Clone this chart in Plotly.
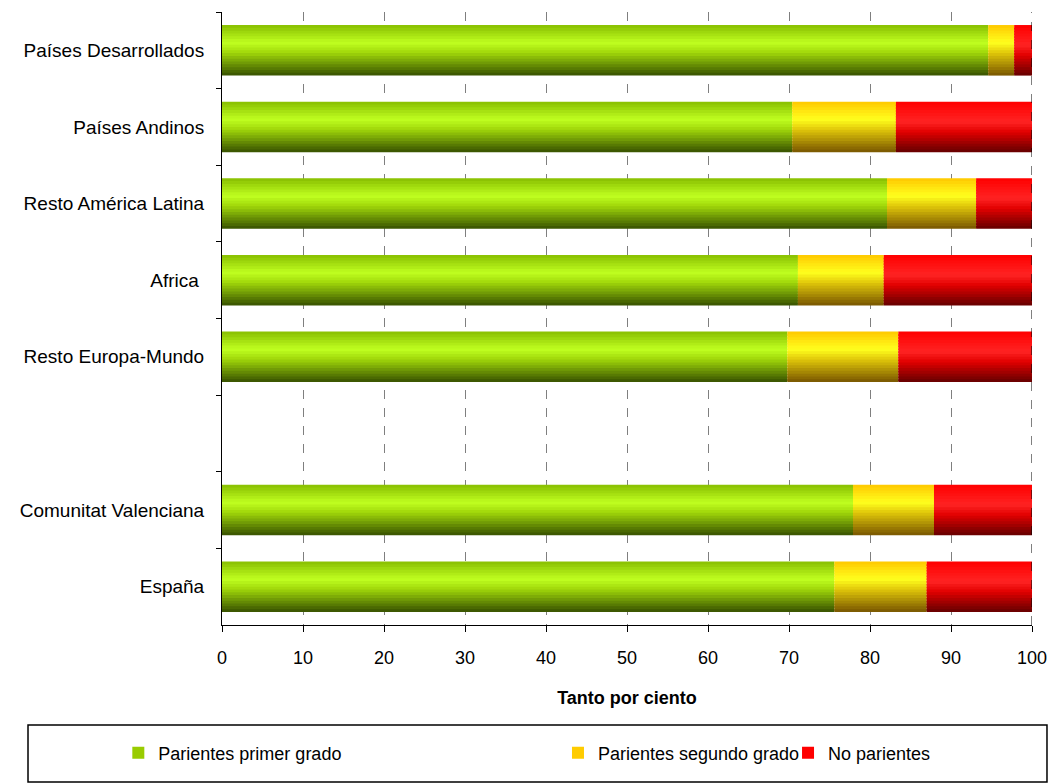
import plotly.graph_objects as go

categories = ["Países Desarrollados", "Países Andinos", "Resto América Latina", "Africa ",
              "Resto Europa-Mundo", " ", "Comunitat Valenciana", "España"]
primer_grado = [94.6, 70.4, 82.1, 71.1, 69.8, None, 77.9, 75.6]
segundo_grado = [3.2, 12.8, 11.0, 10.6, 13.7, None, 10.0, 11.4]
no_parientes = [2.2, 16.8, 6.9, 18.3, 16.5, None, 12.1, 13.0]
series_names = ["Parientes primer grado", "Parientes segundo grado", "No parientes"]
x_ticks = [0, 10, 20, 30, 40, 50, 60, 70, 80, 90, 100]

legend_colors = ["#99cc00", "#ffcc00", "#ff0000"]
legend_ids = ["legend", "legend2", "legend3"]
legend_x = [-0.128, 0.4148, 0.6988]
gradients = [
    [(0.0, (135, 190, 0)), (0.35, (192, 255, 32)), (0.55, (160, 215, 10)), (1.0, (55, 80, 0))],
    [(0.0, (255, 200, 0)), (0.35, (255, 255, 30)), (0.55, (225, 200, 10)), (1.0, (120, 85, 0))],
    [(0.0, (255, 0, 0)), (0.4, (255, 35, 35)), (0.6, (225, 0, 0)), (1.0, (100, 0, 0))],
]


def grad_color(stops, t):
    for (t0, c0), (t1, c1) in zip(stops, stops[1:]):
        if t0 <= t <= t1:
            f = (t - t0) / (t1 - t0) if t1 > t0 else 0
            c = [round(a + (b - a) * f) for a, b in zip(c0, c1)]
            return f"rgb({c[0]},{c[1]},{c[2]})"
    c = stops[-1][1]
    return f"rgb({c[0]},{c[1]},{c[2]})"


series = [primer_grado, segundo_grado, no_parientes]
bases = []
acc = [0 if v is not None else None for v in primer_grado]
for s in series:
    bases.append(list(acc))
    acc = [(a + v) if (a is not None and v is not None) else None for a, v in zip(acc, s)]

FONT = "Liberation Sans, Arial, sans-serif"
FS = 18
BAR_W = 0.66
N = 18
fig = go.Figure()
for si, (vals, base, stops) in enumerate(zip(series, bases, gradients)):
    for i in range(N):
        t = (i + 0.5) / N
        fig.add_trace(go.Bar(
            y=categories, x=vals, base=base, orientation="h",
            width=BAR_W / N * 1.6 if i < N - 1 else BAR_W / N,
            offset=-BAR_W / 2 + i * BAR_W / N,
            marker=dict(color=grad_color(stops, t), line=dict(width=0)),
            showlegend=False, hoverinfo="skip",
        ))
    fig.add_trace(go.Bar(
        y=[None], x=[None], orientation="h", name=series_names[si],
        marker=dict(color=legend_colors[si], line=dict(width=0)), showlegend=True,
        legend=legend_ids[si],
    ))

legend_common = dict(orientation="h", y=-0.2088, yanchor="middle", xanchor="left",
                     font=dict(size=FS, family=FONT), bgcolor="rgba(0,0,0,0)")

fig.update_layout(
    barmode="overlay",
    width=1052, height=783,
    margin=dict(l=222, r=20, t=12, b=158),
    paper_bgcolor="white", plot_bgcolor="white",
    font=dict(family=FONT, size=FS, color="#000000"),
    xaxis=dict(
        range=[x_ticks[0], x_ticks[-1]], tickvals=x_ticks, showgrid=True, gridcolor="#7f7f7f",
        griddash="dash", gridwidth=1, showline=True, linecolor="black", linewidth=1,
        ticks="outside", ticklen=6, tickcolor="black", zeroline=False, automargin=False,
        ticklabelstandoff=10,
        title=dict(text="<b>Tanto por ciento</b>", font=dict(size=FS), standoff=24),
    ),
    yaxis=dict(
        categoryorder="array", categoryarray=categories, autorange="reversed",
        showline=True, linecolor="black", linewidth=1, ticks="outside", ticklen=5,
        tickcolor="black", tickson="boundaries", showgrid=False, ticklabelstandoff=13,
        automargin=False, tickfont=dict(size=19),
    ),
    legend=dict(x=legend_x[0], **legend_common),
    legend2=dict(x=legend_x[1], **legend_common),
    legend3=dict(x=legend_x[2], **legend_common),
    shapes=[
        dict(type="rect", xref="paper", yref="paper", x0=-0.2395, x1=1.0185,
             y0=-0.256, y1=-0.163, line=dict(color="black", width=1.5)),
        dict(type="line", xref="x", yref="paper", x0=x_ticks[-1], x1=x_ticks[-1],
             y0=0, y1=1, line=dict(color="black", width=1, dash="dash")),
    ],
)

fig.write_html("out.html", config={"displayModeBar": False},
               post_script="document.body.style.margin='0';")
